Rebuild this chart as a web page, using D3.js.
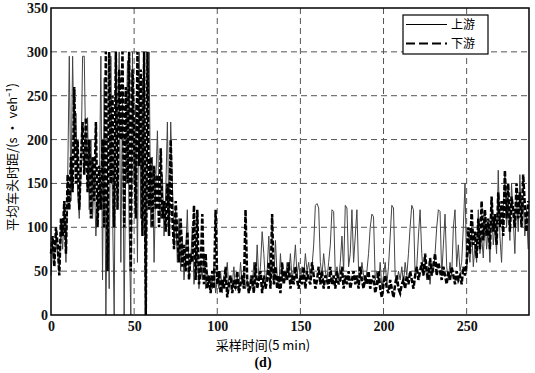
<!DOCTYPE html>
<html>
<head>
<meta charset="utf-8">
<script src="https://cdn.jsdelivr.net/npm/d3@7"></script>
<style>
  body { margin: 0; background: #fff; }
  svg { display: block; }
</style>
</head>
<body>
<svg id="chart" width="535" height="373"></svg>
<script>
// upstream (上游) headway per 5-min sample
const upstream = [
  45, 80, 60, 95, 70, 55, 100, 75, 120, 60,
  150, 295, 130, 295, 180, 230, 140, 110, 160, 295,
  295, 170, 225, 120, 200, 110, 160, 90, 140, 120,
  295, 40, 270, 0, 150, 30, 295, 120, 0, 280,
  190, 300, 60, 250, 0, 180, 290, 100, 0, 300,
  150, 240, 60, 300, 110, 270, 130, 0, 200, 300,
  100, 180, 60, 150, 210, 130, 110, 160, 90, 140,
  220, 100, 220, 150, 80, 120, 60, 110, 50, 90,
  40, 70, 120, 45, 60, 100, 35, 55, 80, 30,
  60, 40, 70, 30, 50, 35, 45, 30, 55, 25,
  40, 30, 50, 25, 45, 35, 60, 30, 40, 35,
  55, 28, 45, 30, 60, 35, 50, 30, 40, 25,
  45, 30, 60, 35, 80, 40, 55, 95, 70, 35,
  50, 90, 40, 60, 35, 85, 45, 30, 70, 40,
  50, 40, 60, 45, 70, 40, 55, 80, 45, 60,
  40, 55, 45, 70, 50, 60, 40, 55, 80, 125,
  127, 122, 60, 45, 70, 50, 40, 60, 80, 120,
  118, 45, 55, 40, 60, 90, 50, 125, 122, 55,
  70, 120, 60, 90, 120, 50, 40, 60, 45, 35,
  50, 70, 100, 115, 112, 40, 50, 35, 60, 30,
  45, 60, 35, 55, 90, 125, 122, 45, 35, 50,
  40, 55, 35, 60, 45, 70, 100, 125, 120, 45,
  55, 90, 120, 70, 45, 60, 40, 55, 35, 60,
  50, 70, 100, 120, 118, 45, 80, 115, 55, 40,
  60, 45, 100, 120, 55, 80, 50, 60, 100, 150,
  50, 75, 60, 100, 55, 80, 60, 120, 70, 90,
  65, 110, 75, 100, 60, 130, 80, 100, 70, 165,
  90, 60, 120, 160, 100, 130, 85, 150, 110, 70,
  140, 95, 160, 110, 130, 90, 120, 75
];

// downstream (下游)
const downstream = [
  70, 90, 55, 100, 80, 45, 110, 90, 130, 70,
  160, 120, 180, 140, 260, 150, 200, 120, 175, 220,
  160, 225, 140, 200, 110, 180, 130, 220, 100, 170,
  120, 200, 100, 300, 50, 300, 150, 250, 100, 300,
  120, 280, 200, 300, 100, 260, 150, 300, 50, 280,
  200, 110, 300, 170, 280, 90, 300, 0, 300, 120,
  180, 100, 170, 120, 160, 100, 190, 110, 130, 95,
  150, 90, 200, 110, 75, 130, 90, 60, 110, 55,
  80, 50, 95, 40, 70, 60, 125, 40, 120, 35,
  50, 115, 35, 70, 30, 45, 25, 50, 30, 120,
  35, 50, 25, 40, 30, 55, 20, 35, 45, 25,
  40, 30, 50, 25, 35, 45, 30, 120, 40, 25,
  35, 45, 25, 60, 30, 40, 50, 25, 45, 30,
  40, 60, 30, 115, 35, 55, 30, 45, 25, 60,
  35, 50, 40, 60, 30, 45, 35, 55, 40, 30,
  45, 35, 55, 30, 50, 40, 35, 60, 45, 30,
  40, 55, 35, 50, 30, 45, 40, 30, 55, 35,
  45, 30, 50, 35, 40, 55, 30, 45, 35, 50,
  30, 40, 50, 35, 45, 30, 55, 40, 30, 45,
  35, 50, 30, 40, 45, 25, 35, 50, 30, 20,
  35, 45, 30, 25, 40, 30, 20, 35, 45, 30,
  25, 35, 40, 30, 45, 35, 50, 40, 30, 45,
  55, 40, 50, 60, 45, 70, 50, 40, 65, 45,
  55, 70, 45, 60, 50, 40, 55, 45, 35, 50,
  40, 55, 45, 35, 50, 40, 45, 35, 55, 45,
  60, 100, 70, 120, 80, 95, 65, 110, 75, 130,
  85, 120, 90, 110, 75, 135, 95, 115, 80, 140,
  100, 130, 90, 165, 110, 150, 95, 135, 120, 100,
  150, 110, 140, 100, 160, 125, 95, 130
];

const xTicks = [0, 50, 100, 150, 200, 250];
const yTicks = [0, 50, 100, 150, 200, 250, 300, 350];
const seriesNames = ['上游', '下游'];

const margin = {top: 8, right: 6, bottom: 58, left: 51},
    width = 535,
    height = 373;

const svg = d3.select('#chart');
const numFont = '"Liberation Serif", "DejaVu Serif", serif';
const cjkFont = '"Noto Sans CJK SC", sans-serif';

const xScale = d3.scaleLinear().domain([0, 287.5]).range([margin.left, width - margin.right]);
const yScale = d3.scaleLinear().domain([0, 350]).range([height - margin.bottom, margin.top]);

// grid
svg.append('g')
    .selectAll('line')
    .data(yTicks.filter(d => d > 0 && d < 350))
    .join('line')
    .attr('x1', margin.left).attr('x2', width - margin.right)
    .attr('y1', d => yScale(d)).attr('y2', d => yScale(d))
    .attr('stroke', '#555').attr('stroke-width', 1).attr('stroke-dasharray', '6,4');

svg.append('g')
    .selectAll('line')
    .data(xTicks.filter(d => d > 0))
    .join('line')
    .attr('x1', d => xScale(d)).attr('x2', d => xScale(d))
    .attr('y1', margin.top).attr('y2', height - margin.bottom)
    .attr('stroke', '#555').attr('stroke-width', 1).attr('stroke-dasharray', '6,4');

// lines
const line = d3.line().x((d, i) => xScale(i)).y(d => yScale(d));

svg.append('path')
    .datum(upstream)
    .attr('d', line)
    .attr('fill', 'none')
    .attr('stroke', '#444')
    .attr('stroke-width', 1);

svg.append('path')
    .datum(downstream)
    .attr('d', line)
    .attr('fill', 'none')
    .attr('stroke', '#000')
    .attr('stroke-width', 2.5)
    .attr('stroke-dasharray', '5,2');

// frame
svg.append('rect')
    .attr('x', margin.left).attr('y', margin.top)
    .attr('width', width - margin.right - margin.left)
    .attr('height', height - margin.bottom - margin.top)
    .attr('fill', 'none').attr('stroke', '#000').attr('stroke-width', 1.5);

// axes
const xAxis = svg.append('g')
    .attr('transform', `translate(0, ${height - margin.bottom})`)
    .call(d3.axisBottom(xScale).tickValues(xTicks).tickSize(0).tickPadding(6));
const yAxis = svg.append('g')
    .attr('transform', `translate(${margin.left}, 0)`)
    .call(d3.axisLeft(yScale).tickValues(yTicks).tickSize(0).tickPadding(3));

[xAxis, yAxis].forEach(a => {
    a.select('.domain').remove();
    a.selectAll('text')
        .attr('font-family', numFont)
        .attr('font-size', 14)
        .attr('font-weight', 'bold')
        .attr('fill', '#111');
});

// legend
const legend = svg.append('g');
legend.append('rect')
    .attr('x', 403).attr('y', 15).attr('width', 85).attr('height', 39)
    .attr('fill', '#fff').attr('stroke', '#000').attr('stroke-width', 1.2);

const legendItems = legend.selectAll('.item')
    .data(seriesNames)
    .join('g')
    .attr('class', 'item')
    .attr('transform', (d, i) => `translate(0, ${24.5 + i * 19})`);

legendItems.append('line')
    .attr('x1', 406).attr('x2', 447).attr('y1', 0).attr('y2', 0)
    .attr('stroke', '#000')
    .attr('stroke-width', (d, i) => i === 0 ? 1.2 : 2)
    .attr('stroke-dasharray', (d, i) => i === 0 ? null : '9,4');

legendItems.append('text')
    .attr('x', 451).attr('y', 4)
    .attr('font-family', cjkFont)
    .attr('font-size', 12)
    .text(d => d);

// axis titles
svg.append('text')
    .attr('transform', `translate(17, 157) rotate(-90)`)
    .attr('text-anchor', 'middle')
    .attr('font-family', cjkFont)
    .attr('font-size', 13)
    .text('平均车头时距/(s · veh⁻¹)');

svg.append('text')
    .attr('x', 263).attr('y', 350)
    .attr('text-anchor', 'middle')
    .attr('font-family', cjkFont)
    .attr('font-size', 13)
    .text('采样时间(5 min)');

svg.append('text')
    .attr('x', 263).attr('y', 367)
    .attr('text-anchor', 'middle')
    .attr('font-family', numFont)
    .attr('font-size', 14)
    .attr('font-weight', 'bold')
    .text('(d)');
</script>
</body>
</html>
